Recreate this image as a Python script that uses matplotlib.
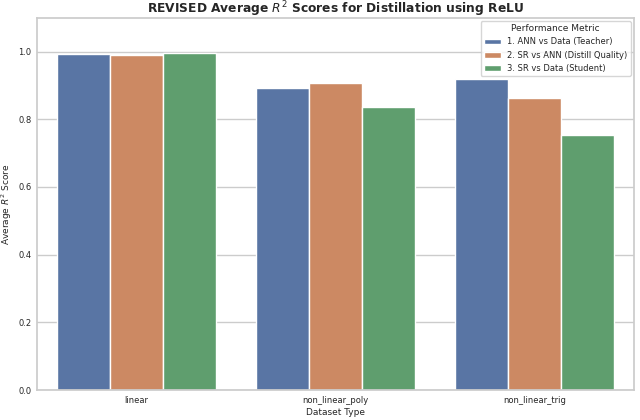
import numpy as np
import pandas as pd
import matplotlib
matplotlib.use("Agg")
import matplotlib.pyplot as plt
import seaborn as sns

datasets = ["linear", "non_linear_poly", "non_linear_trig"]
metrics = ["1. ANN vs Data (Teacher)", "2. SR vs ANN (Distill Quality)", "3. SR vs Data (Student)"]
ann_vs_data = [0.993, 0.891, 0.920]
sr_vs_ann = [0.989, 0.906, 0.862]
sr_vs_data = [0.995, 0.837, 0.754]

rows = []
for i, ds in enumerate(datasets):
    rows.append((ds, metrics[0], ann_vs_data[i]))
    rows.append((ds, metrics[1], sr_vs_ann[i]))
    rows.append((ds, metrics[2], sr_vs_data[i]))
df = pd.DataFrame(rows, columns=["Dataset Type", "Metric", "R2"])

sns.set_theme(style="whitegrid")
plt.rcParams["font.family"] = ["DejaVu Sans"]

fig, ax = plt.subplots(figsize=(6.4, 4.2), dpi=100)
fig.subplots_adjust(left=0.058, right=0.991, bottom=0.071, top=0.958)
sns.barplot(data=df, x="Dataset Type", y="R2", hue="Metric", ax=ax)
ax.set_ylim(0, 1.1)
ax.set_title("REVISED Average $R^2$ Scores for Distillation using ReLU",
             fontsize=8.8, fontweight="bold", pad=3)
ax.set_xlabel("Dataset Type", fontsize=6.5, labelpad=2)
ax.set_ylabel("Average $R^2$ Score", fontsize=6.5, labelpad=3)
ax.tick_params(labelsize=6, pad=4, length=0)
ax.legend(title="Performance Metric", loc="upper right", fontsize=6, title_fontsize=6.5,
          borderaxespad=0.4)

plt.savefig("out.png", dpi=100)
